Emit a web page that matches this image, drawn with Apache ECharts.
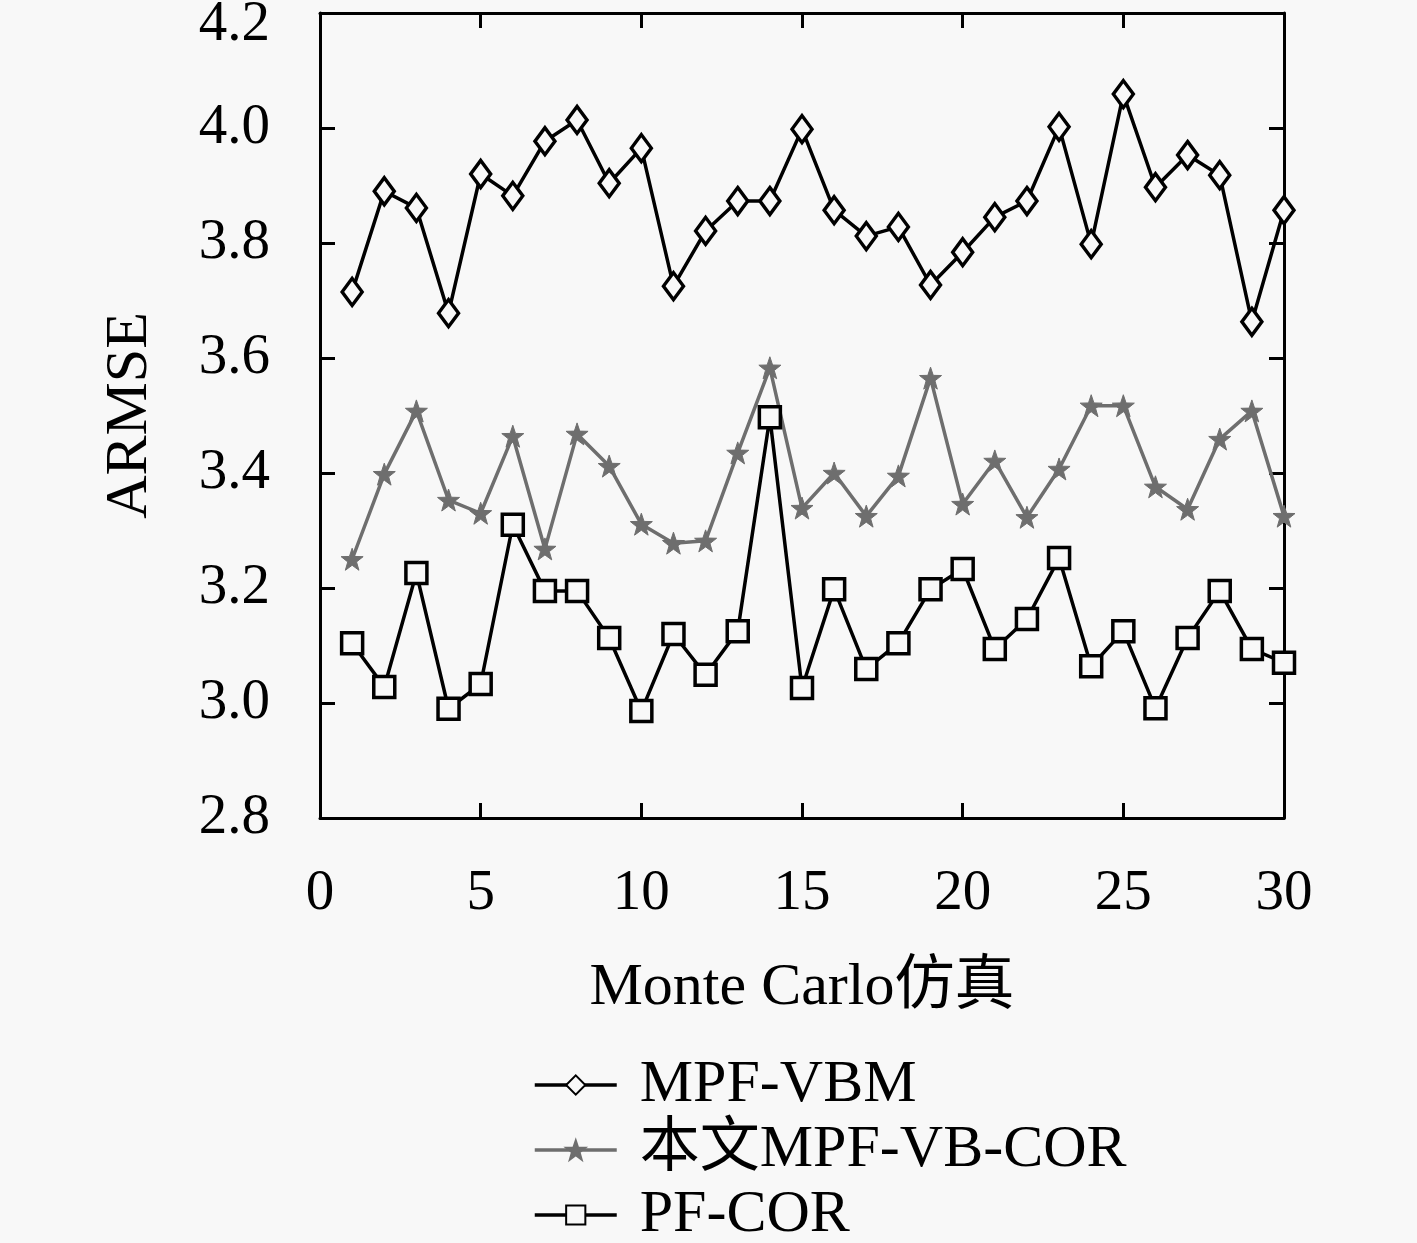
<!DOCTYPE html>
<html>
<head>
<meta charset="utf-8">
<script src="https://cdn.jsdelivr.net/npm/echarts@6/dist/echarts.min.js"></script>
<style>
html, body { margin: 0; padding: 0; background: #f8f8f8; }
#main { width: 1417px; height: 1243px; }
</style>
</head>
<body>
<div id="main"></div>
<script>
var chart = echarts.init(document.getElementById('main'));

var runs = [];
for (var i = 1; i <= 30; i++) runs.push(i);

var mpfVbm = [3.715, 3.890, 3.861, 3.678, 3.920, 3.882, 3.977, 4.014, 3.904, 3.965,
              3.725, 3.821, 3.873, 3.873, 3.998, 3.857, 3.812, 3.828, 3.727, 3.784,
              3.845, 3.873, 4.002, 3.798, 4.059, 3.897, 3.953, 3.918, 3.663, 3.857];
var mpfVbCor = [3.250, 3.398, 3.508, 3.353, 3.330, 3.464, 3.268, 3.468, 3.412, 3.311,
                3.278, 3.282, 3.435, 3.583, 3.339, 3.400, 3.325, 3.395, 3.565, 3.346,
                3.421, 3.323, 3.407, 3.517, 3.517, 3.376, 3.337, 3.459, 3.508, 3.325];
var pfCor = [3.104, 3.028, 3.226, 2.990, 3.033, 3.310, 3.195, 3.195, 3.113, 2.986,
             3.120, 3.049, 3.125, 3.497, 3.026, 3.198, 3.059, 3.104, 3.198, 3.233,
             3.094, 3.146, 3.252, 3.064, 3.125, 2.991, 3.113, 3.195, 3.094, 3.070];

var names = ['MPF-VBM', '本文MPF-VB-COR', 'PF-COR'];

function pairs(ys) {
    return ys.map(function (y, k) { return [runs[k], y]; });
}

var font = "'Liberation Serif', 'Noto Sans CJK SC', serif";
var star = 'path://M0,-10 L2.35,-3.24 L9.51,-3.09 L3.8,1.24 L5.88,8.09 L0,4 L-5.88,8.09 L-3.8,1.24 L-9.51,-3.09 L-2.35,-3.24 Z';

var frameLine = { show: true, onZero: false, lineStyle: { color: '#000', width: 3 } };
var tickIn = { show: true, inside: true, length: 15, lineStyle: { color: '#000', width: 3 } };

// one legend per row so the last row is not wrapped into a second column
var legendTops = [1054, 1119, 1184];
var legends = names.map(function (n, k) {
    return {
        orient: 'vertical',
        left: 533,
        top: legendTops[k],
        padding: 0,
        itemWidth: 82,
        itemHeight: 24,
        lineStyle: { width: 3.5 },
        textStyle: { fontFamily: font, fontSize: 60, color: '#000', lineHeight: 62, padding: [0, 0, 0, 18] },
        data: [n]
    };
});

var option = {
    backgroundColor: '#f8f8f8',
    animation: false,
    grid: { left: 320, right: 133, top: 13, bottom: 425, outerBoundsMode: 'none', containLabel: false },
    legend: legends,
    xAxis: [{
        type: 'value', min: 0, max: 30, interval: 5,
        name: 'Monte Carlo仿真', nameLocation: 'middle', nameGap: 140,
        nameTextStyle: { fontFamily: font, fontSize: 60, color: '#000' },
        axisLine: frameLine, axisTick: tickIn,
        axisLabel: { fontFamily: font, fontSize: 57, color: '#000', margin: 48 },
        splitLine: { show: false }
    }, {
        type: 'value', min: 0, max: 30, interval: 5, position: 'top',
        axisLine: frameLine, axisTick: tickIn,
        axisLabel: { show: false }, splitLine: { show: false }
    }],
    yAxis: [{
        type: 'value', min: 2.8, max: 4.2, interval: 0.2,
        name: 'ARMSE', nameLocation: 'middle', nameGap: 160,
        nameTextStyle: { fontFamily: font, fontSize: 60, color: '#000' },
        axisLine: frameLine, axisTick: tickIn,
        axisLabel: {
            fontFamily: font, fontSize: 57, color: '#000', margin: 50,
            formatter: function (v) {
                var s = v.toFixed(1);
                return v > 4.1 ? '{top|' + s + '}' : s;
            },
            rich: {
                top: { fontFamily: font, fontSize: 57, color: '#000', padding: [24, 0, 0, 0] }
            }
        },
        splitLine: { show: false }
    }, {
        type: 'value', min: 2.8, max: 4.2, interval: 0.2, position: 'right',
        axisLine: frameLine, axisTick: tickIn,
        axisLabel: { show: false }, splitLine: { show: false }
    }],
    series: [{
        name: names[0],
        type: 'line',
        data: pairs(mpfVbm),
        symbol: 'diamond',
        symbolSize: [20, 27],
        showAllSymbol: true,
        lineStyle: { color: '#000', width: 3.5 },
        itemStyle: { color: '#f8f8f8', borderColor: '#000', borderWidth: 3.5 },
        z: 3
    }, {
        name: names[1],
        type: 'line',
        data: pairs(mpfVbCor),
        symbol: star,
        symbolSize: 22,
        showAllSymbol: true,
        lineStyle: { color: '#6e6e6e', width: 3.5 },
        itemStyle: { color: '#6e6e6e', borderColor: '#6e6e6e', borderWidth: 1 },
        z: 2
    }, {
        name: names[2],
        type: 'line',
        data: pairs(pfCor),
        symbol: 'rect',
        symbolSize: 21,
        showAllSymbol: true,
        lineStyle: { color: '#000', width: 3.5 },
        itemStyle: { color: '#f8f8f8', borderColor: '#000', borderWidth: 3.5 },
        z: 4
    }]
};

chart.setOption(option);
</script>
</body>
</html>
